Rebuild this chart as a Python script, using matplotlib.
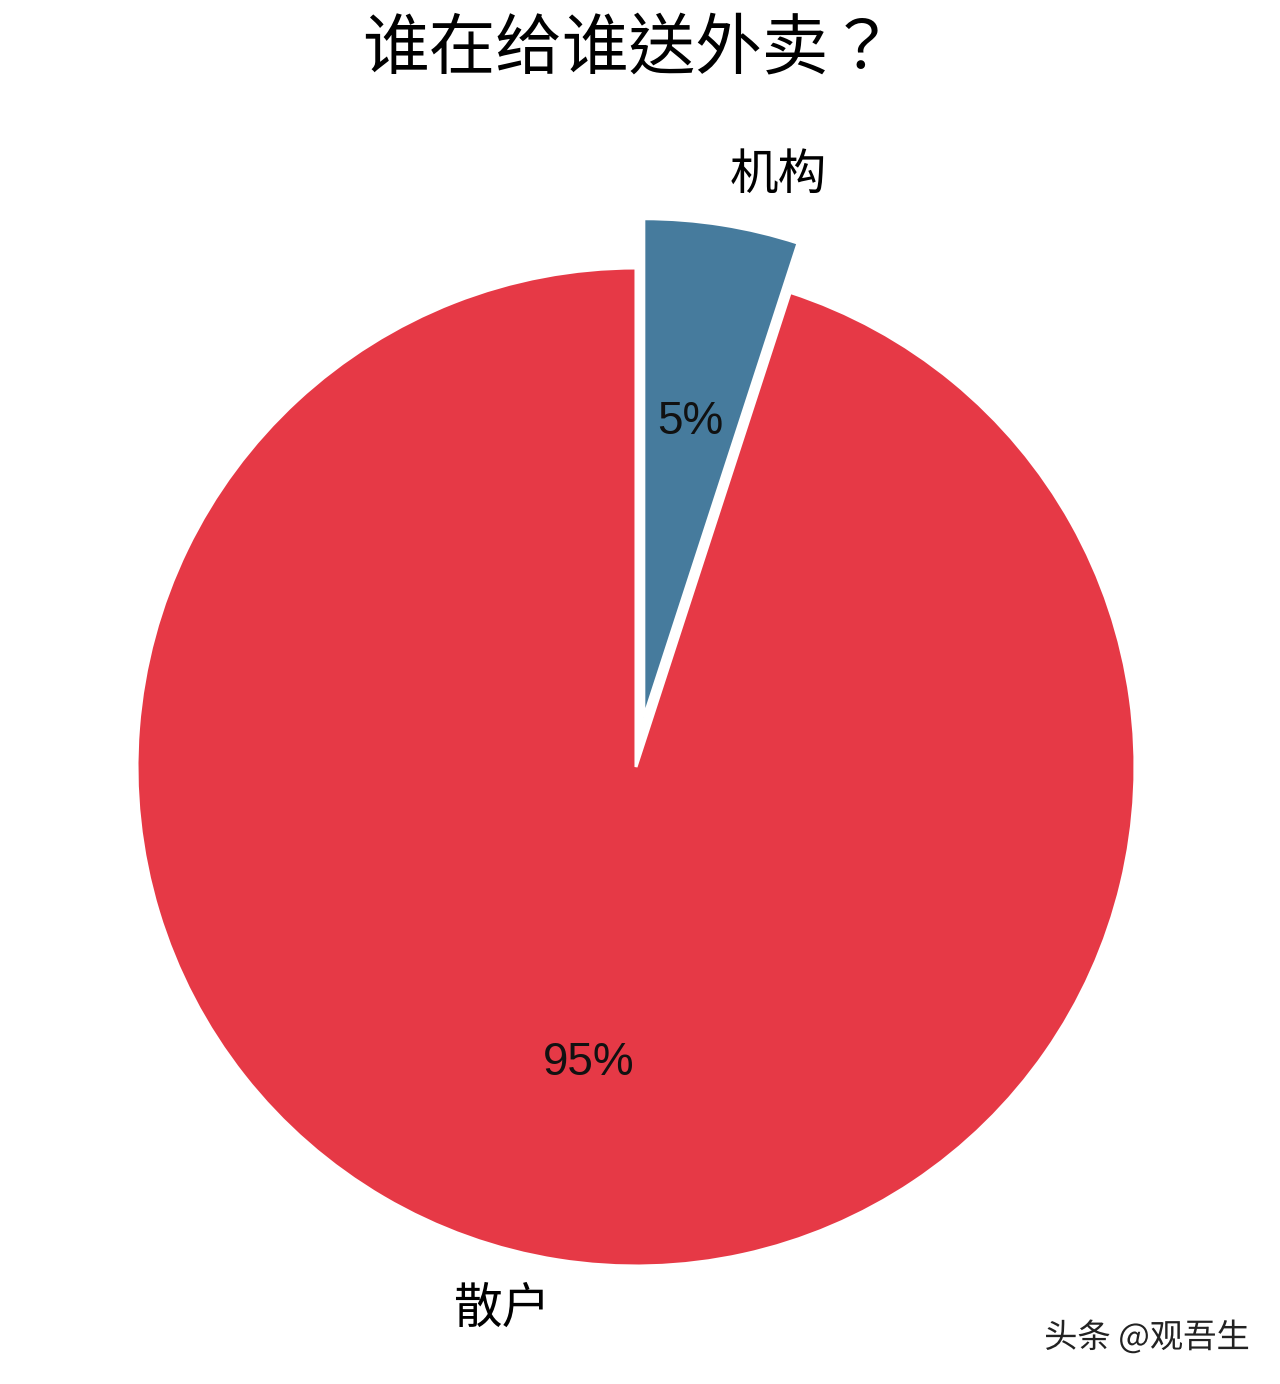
import matplotlib
matplotlib.use("Agg")
import matplotlib.pyplot as plt
import matplotlib.patheffects as pe

plt.rcParams['font.family'] = ['Noto Sans CJK SC', 'DejaVu Sans']

labels = ['机构', '散户']
values = [5, 95]
colors = ['#467b9d', '#e63946']
explode = [0.1, 0]
title = '谁在给谁送外卖？'
watermark = '头条 @观吾生'

W, H = 1280, 1384
fig = plt.figure(figsize=(W / 100, H / 100), dpi=100)

cx, cy, r = 636, H - 767, 499
lim = 1.25
size = 2 * lim * r
ax = fig.add_axes([(cx - size / 2) / W, (cy - size / 2) / H, size / W, size / H])

wedges, texts, autotexts = ax.pie(
    values, labels=labels, colors=colors, explode=explode,
    startangle=90, counterclock=False, autopct='%1.0f%%',
    wedgeprops=dict(edgecolor='white', linewidth=2.2),
    textprops=dict(fontsize=35, color='black'),
)
for t in autotexts:
    t.set_fontfamily(['Liberation Sans', 'Noto Sans CJK SC'])
    t.set_fontsize(33)
    t.set_color('#111111')
ax.set_xlim(-lim, lim)
ax.set_ylim(-lim, lim)
ax.set_aspect('auto')
ax.axis('off')

fig.text(362 / W, 1 - 50 / H, title, ha='left', va='center', fontsize=48,
         family=['Noto Sans CJK TC', 'DejaVu Sans'])

fig.text(1250 / W, 1 - 1338 / H, watermark, ha='right', va='center', fontsize=24,
         color='#222222',
         path_effects=[pe.withStroke(linewidth=2, foreground='white')])

fig.savefig('out.png', dpi=100, facecolor='white')
